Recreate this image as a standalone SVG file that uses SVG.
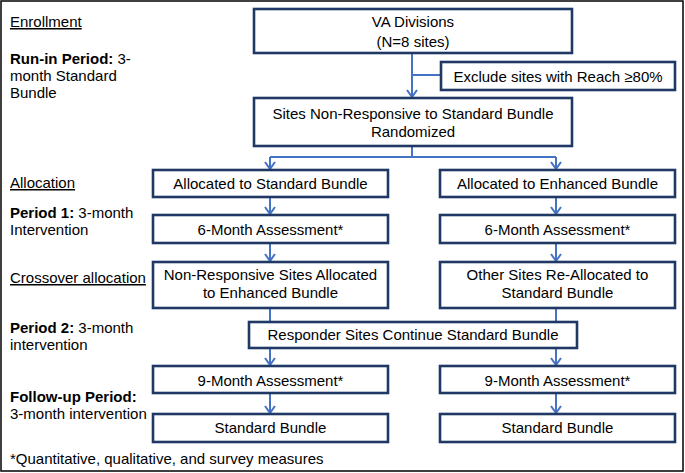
<svg xmlns="http://www.w3.org/2000/svg" width="685" height="473" viewBox="0 0 685 473">
<defs>
<style>
text{font-family:"Liberation Sans",Arial,sans-serif;font-size:15px;fill:#000}
.c{text-anchor:middle}
.b{font-weight:bold}
.u{text-decoration:underline}
.box{fill:#fff;stroke:#1F3864;stroke-width:2.6}
.con{fill:none;stroke:#4472C4;stroke-width:2}
.arr{marker-end:url(#ah)}
</style>
<marker id="ah" viewBox="0 0 10 12" refX="9" refY="6" markerWidth="10" markerHeight="12" markerUnits="userSpaceOnUse" orient="auto">
<path d="M2,1 L9,6 L2,11" fill="none" stroke="#4472C4" stroke-width="2"/>
</marker>
</defs>
<rect x="0" y="0" width="685" height="473" fill="#fff"/>
<rect x="1" y="1" width="682" height="470" fill="none" stroke="#000" stroke-width="1.5"/>

<g id="labels">
<text x="10" y="27" class="u">Enrollment</text>
<text x="10" y="64"><tspan class="b">Run-in Period:</tspan> 3-</text>
<text x="10" y="81">month Standard</text>
<text x="10" y="98">Bundle</text>
<text x="10" y="188" class="u">Allocation</text>
<text x="10" y="218"><tspan class="b">Period 1:</tspan> 3-month</text>
<text x="10" y="235">Intervention</text>
<text x="10" y="283" class="u">Crossover allocation</text>
<text x="10" y="333"><tspan class="b">Period 2:</tspan> 3-month</text>
<text x="10" y="350">intervention</text>
<text x="10" y="402" class="b">Follow-up Period:</text>
<text x="10" y="419">3-month intervention</text>
<text x="10" y="464">*Quantitative, qualitative, and survey measures</text>
</g>

<g id="connectors">
<line class="con arr" x1="412" y1="53" x2="412" y2="97"/>
<line class="con" x1="412" y1="75" x2="441" y2="75"/>
<polyline class="con" points="412,146 412,157 270,157"/>
<line class="con" x1="412" y1="157" x2="556" y2="157"/>
<line class="con arr" x1="270" y1="157" x2="270" y2="169"/>
<line class="con arr" x1="556" y1="157" x2="556" y2="169"/>
<line class="con arr" x1="270" y1="197" x2="270" y2="214"/>
<line class="con arr" x1="556" y1="197" x2="556" y2="214"/>
<line class="con arr" x1="270" y1="243" x2="270" y2="261"/>
<line class="con arr" x1="556" y1="243" x2="556" y2="261"/>
<line class="con arr" x1="270" y1="308" x2="270" y2="365"/>
<line class="con arr" x1="556" y1="308" x2="556" y2="365"/>
<line class="con arr" x1="270" y1="393" x2="270" y2="413"/>
<line class="con arr" x1="556" y1="393" x2="556" y2="413"/>
</g>

<g id="va-divisions">
<rect class="box" x="254" y="9" width="318" height="44"/>
<text class="c" x="413" y="27">VA Divisions</text>
<text class="c" x="413" y="47">(N=8 sites)</text>
</g>
<g id="exclude">
<rect class="box" x="441" y="62" width="234" height="28"/>
<text class="c" x="558" y="82">Exclude sites with Reach ≥80%</text>
</g>
<g id="randomized">
<rect class="box" x="254" y="98" width="318" height="48"/>
<text class="c" x="413" y="119">Sites Non-Responsive to Standard Bundle</text>
<text class="c" x="413" y="137">Randomized</text>
</g>
<g id="alloc-standard">
<rect class="box" x="153" y="170" width="235" height="27"/>
<text class="c" x="270.5" y="189">Allocated to Standard Bundle</text>
</g>
<g id="alloc-enhanced">
<rect class="box" x="440" y="170" width="235" height="27"/>
<text class="c" x="557.5" y="189">Allocated to Enhanced Bundle</text>
</g>
<g id="assess6-left">
<rect class="box" x="153" y="215" width="235" height="28"/>
<text class="c" x="270.5" y="235">6-Month Assessment*</text>
</g>
<g id="assess6-right">
<rect class="box" x="440" y="215" width="235" height="28"/>
<text class="c" x="557.5" y="235">6-Month Assessment*</text>
</g>
<g id="crossover-left">
<rect class="box" x="153" y="262" width="235" height="46"/>
<text class="c" x="270.5" y="280">Non-Responsive Sites Allocated</text>
<text class="c" x="270.5" y="298">to Enhanced Bundle</text>
</g>
<g id="crossover-right">
<rect class="box" x="440" y="262" width="235" height="46"/>
<text class="c" x="557.5" y="280">Other Sites Re-Allocated to</text>
<text class="c" x="557.5" y="298">Standard Bundle</text>
</g>
<g id="responders">
<rect class="box" x="249" y="322" width="328" height="26"/>
<text class="c" x="413" y="340">Responder Sites Continue Standard Bundle</text>
</g>
<g id="assess9-left">
<rect class="box" x="153" y="366" width="235" height="27"/>
<text class="c" x="270.5" y="386">9-Month Assessment*</text>
</g>
<g id="assess9-right">
<rect class="box" x="440" y="366" width="235" height="27"/>
<text class="c" x="557.5" y="386">9-Month Assessment*</text>
</g>
<g id="standard-left">
<rect class="box" x="153" y="414" width="235" height="28"/>
<text class="c" x="270.5" y="433">Standard Bundle</text>
</g>
<g id="standard-right">
<rect class="box" x="440" y="414" width="235" height="28"/>
<text class="c" x="557.5" y="433">Standard Bundle</text>
</g>
</svg>
